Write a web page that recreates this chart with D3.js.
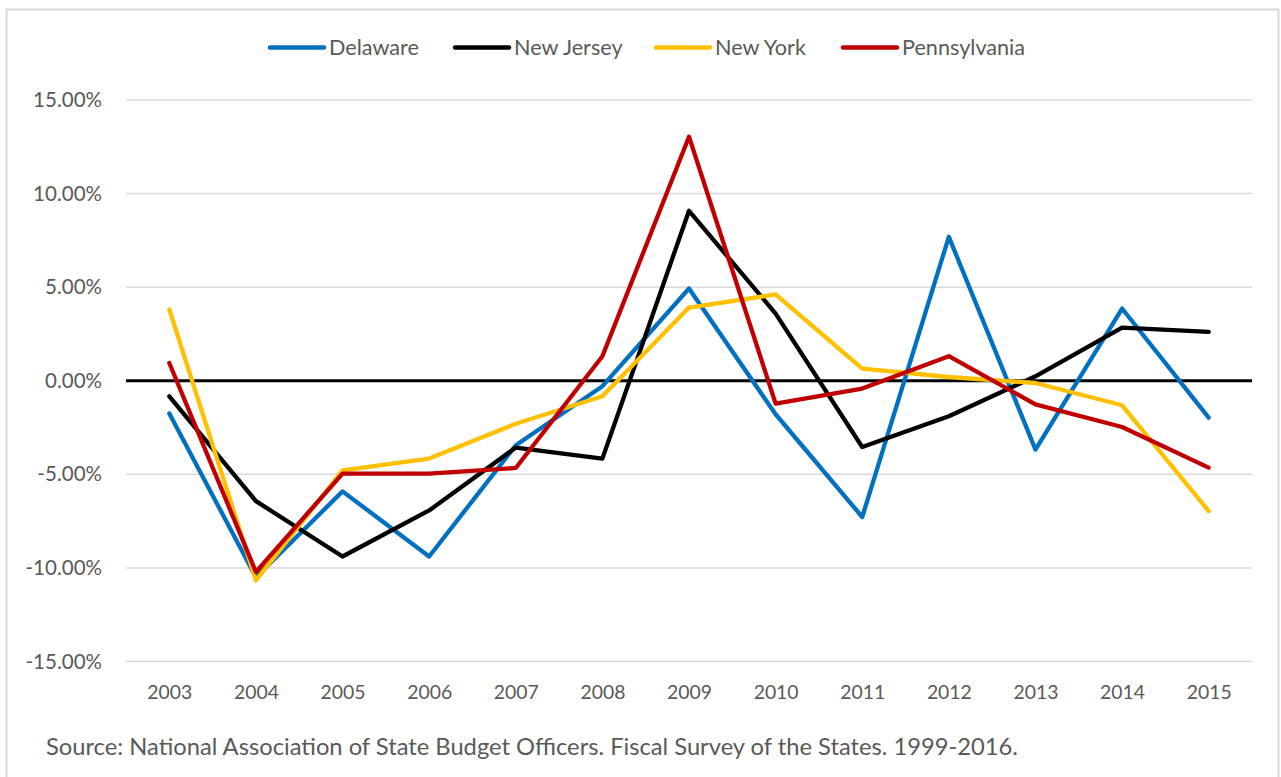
<!DOCTYPE html>
<html>
<head>
<meta charset="utf-8">
<script src="https://cdn.jsdelivr.net/npm/d3@7"></script>
<style>
  html, body { margin: 0; padding: 0; background: #fff; }
  svg { display: block; }
  text { font-family: Lato, "Open Sans", sans-serif; fill: #595959; }
</style>
</head>
<body>
<svg id="chart" width="1281" height="777"></svg>
<script>
const years = ["2003","2004","2005","2006","2007","2008","2009","2010","2011","2012","2013","2014","2015"];
const delaware     = [-1.75, -10.5, -5.91, -9.39, -3.45, -0.29, 4.93, -1.79, -7.28, 7.69, -3.68, 3.86, -1.97];
const newJersey    = [-0.83, -6.43, -9.39, -6.93, -3.57, -4.16, 9.08, 3.59, -3.54, -1.90, 0.24, 2.84, 2.61];
const newYork      = [3.81, -10.67, -4.79, -4.16, -2.30, -0.83, 3.91, 4.61, 0.65, 0.20, -0.12, -1.31, -6.96];
const pennsylvania = [0.95, -10.22, -4.96, -4.96, -4.66, 1.31, 13.04, -1.22, -0.42, 1.31, -1.26, -2.47, -4.64];
const seriesNames  = ["Delaware", "New Jersey", "New York", "Pennsylvania"];
const seriesColors = ["#0070C0", "#000000", "#FFC000", "#C00000"];
const yTicks = [15, 10, 5, 0, -5, -10, -15];
const sourceText = "Source: National Association of State Budget Officers. Fiscal Survey of the States. 1999-2016.";

const seriesValues = [delaware, newJersey, newYork, pennsylvania];
const svg = d3.select("#chart");

// measure helper: font size giving a target width for a sample string
function fitSize(sample, targetWidth) {
  const t = svg.append("text").style("font-size", "20px").text(sample);
  const w = t.node().getComputedTextLength();
  t.remove();
  return 20 * targetWidth / w;
}
const tickSize = fitSize("15.00%", 69);
const yearSize = fitSize("2003", 45);
const legendSize = fitSize("Delaware", 90);
const sourceSize = fitSize(sourceText, 972);

// outer border
svg.append("rect").attr("x", 6.5).attr("y", 9.5).attr("width", 1272).attr("height", 780)
  .attr("fill", "none").attr("stroke", "#d9d9d9").attr("stroke-width", 2);

const plotL = 126, plotR = 1252;
const x = d3.scalePoint().domain(years).range([plotL, plotR]).padding(0.5);
const y = d3.scaleLinear().domain([-15, 15]).range([661.5, 100]);

// gridlines
svg.append("g").selectAll("line").data(yTicks).join("line")
  .attr("x1", plotL).attr("x2", plotR)
  .attr("y1", d => y(d)).attr("y2", d => y(d))
  .attr("stroke", "#d9d9d9").attr("stroke-width", 1.5);

// y axis labels
const pct = d => (d < 0 ? "-" : "") + Math.abs(d).toFixed(2) + "%";
const yAxis = d3.axisLeft(y).tickValues(yTicks).tickSize(0).tickPadding(0).tickFormat(pct);
const gy = svg.append("g").attr("transform", `translate(102,0)`).call(yAxis);
gy.select(".domain").remove();
gy.selectAll("text").style("font-size", tickSize + "px").style("fill", "#595959")
  .style("font-family", "Lato, sans-serif");

// x axis labels
const xAxis = d3.axisBottom(x).tickSize(0).tickPadding(0);
const gx = svg.append("g").attr("transform", `translate(0,685)`).call(xAxis);
gx.select(".domain").remove();
gx.selectAll("text").style("font-size", yearSize + "px").style("fill", "#595959")
  .style("font-family", "Lato, sans-serif");

// zero line
svg.append("line").attr("x1", plotL).attr("x2", plotR)
  .attr("y1", y(0)).attr("y2", y(0))
  .attr("stroke", "#000").attr("stroke-width", 3.2);

// series lines
const line = d3.line().x((d, i) => x(years[i])).y(d => y(d));
svg.append("g").selectAll("path").data(seriesValues).join("path")
  .attr("d", d => line(d))
  .attr("fill", "none")
  .attr("stroke", (d, i) => seriesColors[i])
  .attr("stroke-width", 4.3)
  .attr("stroke-linejoin", "round")
  .attr("stroke-linecap", "round");

// legend
const legendX = [270, 455, 656, 843];
const lg = svg.append("g").selectAll("g").data(seriesNames).join("g")
  .attr("transform", (d, i) => `translate(${legendX[i]},47.5)`);
lg.append("line").attr("x1", 0).attr("x2", 54).attr("y1", 0).attr("y2", 0)
  .attr("stroke", (d, i) => seriesColors[i]).attr("stroke-width", 4.5).attr("stroke-linecap", "round");
lg.append("text").attr("x", 59).attr("y", 0).attr("dy", "0.35em")
  .style("font-size", legendSize + "px").text(d => d);

// source
svg.append("text").attr("x", 46).attr("y", 747).attr("dy", "0.35em")
  .style("font-size", sourceSize + "px").text(sourceText);
</script>
</body>
</html>
